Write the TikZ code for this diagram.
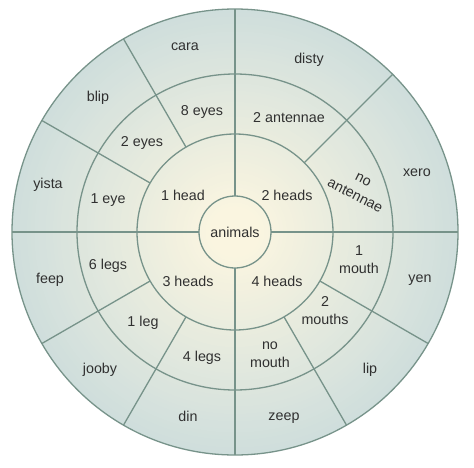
\documentclass[tikz,border=0pt]{standalone}
\usepackage{fontspec}
\setmainfont{Liberation Sans}
\definecolor{cIn}{HTML}{FAF5E0}
\definecolor{cOut}{HTML}{CFDEDC}
\definecolor{lineC}{HTML}{77938A}
\definecolor{txtC}{HTML}{303030}
\tikzset{
  ring/.style={draw=lineC, line width=1.3pt},
  spoke/.style={draw=lineC, line width=1.3pt},
  lbl/.style={text=txtC, font=\fontsize{14.3}{18}\selectfont, align=center, inner sep=0pt},
}
\begin{document}
\begin{tikzpicture}[x=1pt,y=1pt]
\useasboundingbox (-235,-235) rectangle (239,232);
\fill[white] (-235,-235) rectangle (239,232);
% radial gradient built from concentric discs
\foreach \i in {60,59,...,1}{
  \pgfmathsetmacro{\rr}{223*\i/60}
  \pgfmathsetmacro{\pp}{max(0,min(100,(\rr-25)/198*100))}
  \fill[cOut!\pp!cIn] (0,0) circle (\rr);
}
% spokes
\draw[spoke] (90:36) -- (90:223);
\draw[spoke] (270:36) -- (270:223);
\draw[spoke] (0:36) -- (0:223);
\draw[spoke] (180:36) -- (180:223);
\foreach \a in {120,150,45,-30,-60,210,240}{
  \draw[spoke] (\a:98) -- (\a:223);
}
% rings
\draw[ring] (0,0) circle (223);
\draw[ring] (0,0) circle (158);
\draw[ring] (0,0) circle (98);
\draw[ring] (0,0) circle (36);
% labels
\node[lbl] (animals) at (0,0) {animals};
\node[lbl] (h1) at (-52,37) {1 head};
\node[lbl] (h2) at (52,37) {2 heads};
\node[lbl] (h3) at (-47,-49) {3 heads};
\node[lbl] (h4) at (42,-49) {4 heads};
\node[lbl] (e8) at (-33,120) {8 eyes};
\node[lbl] (e2) at (-93,89) {2 eyes};
\node[lbl] (e1) at (-127,32) {1 eye};
\node[lbl] (a2) at (54,114) {2 antennae};
\node[lbl, rotate=-27] (a0) at (124,44) {no\\antennae};
\node[lbl] (m1) at (124,-28) {1\\mouth};
\node[lbl] (m2) at (90,-79) {2\\mouths};
\node[lbl] (m0) at (35,-123) {no\\mouth};
\node[lbl] (l6) at (-127,-34) {6 legs};
\node[lbl] (l1) at (-92,-91) {1 leg};
\node[lbl] (l4) at (-33,-126) {4 legs};
\node[lbl] (cara) at (-50,185) {cara};
\node[lbl] (blip) at (-137,134) {blip};
\node[lbl] (yista) at (-187,47) {yista};
\node[lbl] (disty) at (74,172) {disty};
\node[lbl] (xero) at (182,59) {xero};
\node[lbl] (yen) at (185,-48) {yen};
\node[lbl] (lip) at (135,-138) {lip};
\node[lbl] (zeep) at (49,-186) {zeep};
\node[lbl] (din) at (-47,-184) {din};
\node[lbl] (jooby) at (-135,-138) {jooby};
\node[lbl] (feep) at (-185,-48) {feep};
\end{tikzpicture}
\end{document}
